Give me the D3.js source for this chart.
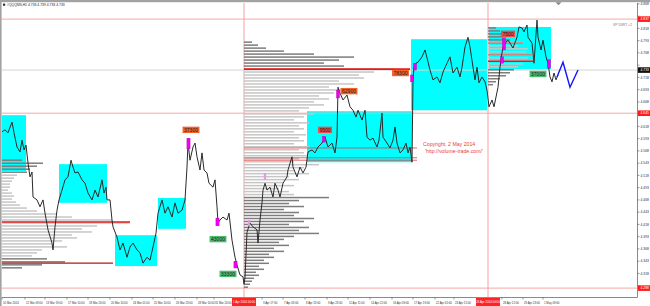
<!DOCTYPE html>
<html>
<head>
<meta charset="utf-8">
<script src="https://cdn.jsdelivr.net/npm/d3@7"></script>
<style>
  html, body { margin: 0; padding: 0; background: #fff; }
  svg { display: block; font-family: "Liberation Sans", Arial, sans-serif; }
</style>
</head>
<body>
<svg id="chart" width="650" height="306"></svg>
<script>
// hourly bars (index from 10 Mar 2014) and closes
const hourBars = [
  0, 6, 12, 20, 24, 30, 36, 40, 44, 48,
  52, 56, 60, 62, 70, 76, 82, 86, 92, 100,
  102, 106, 110, 114, 120, 126, 132, 138, 142, 146,
  152, 160, 166, 172, 180, 186, 192, 200, 204, 208,
  210, 216, 220, 222, 230, 236, 242, 250, 256, 262,
  270, 276, 282, 290, 296, 302, 308, 312, 320, 326,
  332, 340, 346, 352, 360, 366, 370, 372, 376, 382,
  386, 390, 396, 400, 404, 410, 414, 422, 426, 430,
  432, 436, 442, 450, 454, 460, 466, 470, 476, 482,
  484, 486, 490, 496, 502, 510, 512, 516, 520, 522,
  526, 530, 536, 542, 546, 552, 556, 562, 570, 572,
  580, 582, 590, 596, 602, 608, 612, 620, 626, 632,
  640, 646, 652, 660, 666, 670, 672, 676, 682, 690,
  696, 702, 708, 712, 720, 726, 730, 736, 742, 750,
  754, 760, 762, 770, 776, 782, 786, 790, 796, 802,
  808, 812, 816, 820, 822, 824, 828, 832, 840, 846,
  850, 856, 862, 870, 876, 882, 890, 896, 902, 910,
  916, 920, 926, 932, 936, 942, 946, 950, 954, 960,
  966, 970, 974, 980, 984, 988, 992, 996, 1000, 1002,
  1008, 1012, 1016, 1022, 1030, 1034, 1040, 1044, 1050, 1052,
  1060, 1064, 1070, 1072, 1078, 1082, 1088, 1092, 1096, 1100,
  1104, 1108, 1112
];
const closes = [
  4.607, 4.611, 4.605, 4.627, 4.605, 4.576, 4.566, 4.590, 4.570, 4.580,
  4.543, 4.515, 4.525, 4.474, 4.468, 4.454, 4.468, 4.441, 4.407, 4.380,
  4.366, 4.413, 4.447, 4.468, 4.488, 4.509, 4.515, 4.549, 4.535, 4.523,
  4.525, 4.509, 4.502, 4.482, 4.468, 4.488, 4.474, 4.509, 4.482, 4.494,
  4.468, 4.468, 4.427, 4.413, 4.392, 4.366, 4.380, 4.351, 4.372, 4.380,
  4.366, 4.360, 4.339, 4.351, 4.345, 4.372, 4.400, 4.441, 4.468, 4.441,
  4.454, 4.433, 4.462, 4.441, 4.447, 4.468, 4.535, 4.584, 4.549, 4.576,
  4.584, 4.556, 4.529, 4.564, 4.529, 4.523, 4.502, 4.494, 4.509, 4.454,
  4.421, 4.427, 4.433, 4.427, 4.441, 4.386, 4.351, 4.335, 4.315, 4.311,
  4.296, 4.309, 4.402, 4.421, 4.413, 4.407, 4.380, 4.427, 4.462, 4.488,
  4.502, 4.488, 4.494, 4.474, 4.502, 4.488, 4.474, 4.502, 4.515, 4.529,
  4.556, 4.535, 4.515, 4.535, 4.523, 4.535, 4.566, 4.570, 4.564, 4.576,
  4.584, 4.596, 4.576, 4.584, 4.564, 4.596, 4.698, 4.686, 4.672, 4.682,
  4.658, 4.651, 4.637, 4.651, 4.631, 4.651, 4.596, 4.590, 4.594, 4.576,
  4.590, 4.645, 4.596, 4.584, 4.574, 4.590, 4.617, 4.584, 4.564, 4.570,
  4.584, 4.564, 4.576, 4.545, 4.713, 4.739, 4.747, 4.749, 4.760, 4.774,
  4.758, 4.733, 4.713, 4.719, 4.707, 4.729, 4.747, 4.760, 4.727, 4.739,
  4.719, 4.739, 4.780, 4.800, 4.780, 4.739, 4.713, 4.739, 4.707, 4.719,
  4.709, 4.692, 4.658, 4.672, 4.658, 4.678, 4.698, 4.739, 4.768, 4.780,
  4.790, 4.794, 4.788, 4.778, 4.800, 4.821, 4.819, 4.811, 4.825, 4.800,
  4.788, 4.747, 4.835, 4.800, 4.774, 4.794, 4.760, 4.747, 4.719, 4.709,
  4.727, 4.713, 4.723
];

// forecast zigzag
const projBars = [1110, 1122, 1136, 1152];
const projPrices = [4.719, 4.749, 4.698, 4.733];

// value-area rectangles
const vaStartBars = [0, 114, 226, 312, 610, 818, 974];
const vaEndBars = [48, 210, 310, 368, 820, 970, 1098];
const vaHighs = [4.641, 4.541, 4.396, 4.472, 4.649, 4.796, 4.821];
const vaLows = [4.527, 4.462, 4.333, 4.409, 4.545, 4.651, 4.735];

// volume profiles: start bar, top level, value area, volumes per level
const profileStep = 0.0061;
const profileStartBars = [0, 484, 972];
const profileTops = [4.549, 4.790, 4.819];
const profileVAHigh = [4.523, 4.741, 4.792];
const profileVALow = [4.351, 4.476, 4.737];
const profileMarch = [
  20, 41, 35, 28, 25, 15, 12, 10, 8, 8, 6, 10, 12, 10, 14, 18, 25, 35, 55, 70,
  110, 128, 95, 80, 90, 70, 75, 60, 50, 65, 40, 35, 30, 45, 63, 40, 20
];
const profileApril = [
  8, 14, 22, 40, 70, 110, 95, 80, 100, 150, 130, 115, 120, 95, 110, 85, 100, 90, 75, 85,
  70, 80, 65, 55, 70, 60, 50, 65, 55, 60, 50, 62, 55, 60, 50, 65, 55, 60, 65, 55,
  50, 75, 60, 50, 65, 45, 55, 40, 50, 35, 45, 50, 85, 55, 45, 60, 40, 55, 50, 70,
  60, 45, 65, 55, 75, 50, 40, 35, 45, 30, 40, 25, 30, 20, 25, 15, 20, 12, 15, 10,
  8, 6, 4
];
const profileMay = [8, 12, 15, 18, 22, 35, 30, 40, 38, 45, 40, 45, 35, 30, 26, 22, 18, 12, 8, 5];
const profileVolumes = [profileMarch, profileApril, profileMay];

// point-of-control and other levels [fromBar, toBar, price]
const pocLevels = [[0, 256, 4.423], [484, 816, 4.735], [972, 1062, 4.751]];
const minorLevels = [[0, 222, 4.339], [484, 830, 4.574], [484, 830, 4.554], [484, 830, 4.549],
  [972, 1042, 4.788], [972, 1060, 4.764]];
const fullLevels = [4.837, 4.645, 4.288];
const lastPrice = 4.733;
const sessionBars = [484, 972];
const sessionLabels = ["1 Apr 2014 00:00", "24 Apr 2014 00:00"];

// volume markers
const markerBars = [373, 431, 467, 644, 672, 820, 826, 1004, 1000, 1094];
const markerHighs = [4.594, 4.431, 4.343, 4.598, 4.692, 4.723, 4.747, 4.798, 4.760, 4.754];
const markerLows = [4.572, 4.415, 4.329, 4.586, 4.676, 4.709, 4.733, 4.774, 4.747, 4.737];
const faintMarkerBars = [494, 526];
const faintMarkerHighs = [4.427, 4.523];
const faintMarkerLows = [4.415, 4.509];

// volume tags
const tagTexts = ["37300", "43000", "33300", "9500", "62900", "78300", "7500", "37000"];
const tagBars = [378, 432, 452, 646, 694, 797, 1012, 1072];
const tagPrices = [4.611, 4.388, 4.317, 4.611, 4.690, 4.727, 4.807, 4.725];
const tagKinds = ["high", "low", "low", "peak", "high", "high", "peak", "low"];

// axes
const priceTicks = [4.868, 4.843, 4.818, 4.793, 4.768, 4.743, 4.718, 4.693, 4.668, 4.643,
  4.618, 4.593, 4.568, 4.543, 4.518, 4.493, 4.468, 4.443, 4.418, 4.393,
  4.368, 4.343, 4.318, 4.293];
const timeLabels = ["10 Mar 2014", "12 Mar 09:00", "13 Mar 19:00", "17 Mar 10:00", "18 Mar 20:00",
  "20 Mar 14:00", "24 Mar 01:00", "25 Mar 10:00", "26 Mar 23:00", "28 Mar 10:00", "31 Mar 20:00",
  "3 Apr 17:00", "7 Apr 03:00", "8 Apr 13:00", "9 Apr 23:00", "11 Apr 11:00", "14 Apr 22:00",
  "16 Apr 09:00", "17 Apr 19:00", "22 Apr 05:00", "23 Apr 15:00", "28 Apr 12:00", "29 Apr 23:00",
  "1 May 09:00"];
const timeLabelBars = [0, 46, 86, 130, 172, 216, 260, 302, 346, 390, 424,
  520, 562, 606, 650, 692, 736, 780, 822, 866, 904, 1000, 1042, 1082];

const symbolName = "#QQQNN,H1";
const headerOHLC = [4.733, 4.739, 4.733, 4.733];

const W = 650, H = 306;
const plot = { left: 2, right: 637, top: 3, bottom: 297 };

const x = d3.scaleLinear().domain([0, 1270]).range([plot.left, plot.right]);
const y = d3.scaleLinear().domain([4.2515, 4.876]).range([H, 0]);
const volX = d3.scaleLinear().domain([0, 150]).range([0, 150]);

const svg = d3.select("#chart");
svg.append("rect").attr("width", W).attr("height", H).attr("fill", "#fff");

svg.append("defs").append("clipPath").attr("id", "plotClip")
  .append("rect")
  .attr("x", plot.left).attr("y", plot.top)
  .attr("width", plot.right - plot.left).attr("height", plot.bottom - plot.top);

const g = svg.append("g").attr("clip-path", "url(#plotClip)");

// value areas
g.selectAll(".va")
  .data(d3.range(vaStartBars.length))
  .join("rect")
  .attr("class", "va")
  .attr("x", i => x(vaStartBars[i]))
  .attr("y", i => y(vaHighs[i]))
  .attr("width", i => x(vaEndBars[i]) - x(vaStartBars[i]))
  .attr("height", i => y(vaLows[i]) - y(vaHighs[i]))
  .attr("fill", "#00ffff");

// pale full width levels and session lines
g.selectAll(".full")
  .data(fullLevels)
  .join("line")
  .attr("x1", plot.left).attr("x2", plot.right)
  .attr("y1", d => y(d)).attr("y2", d => y(d))
  .attr("stroke", "#f5a8a8").attr("stroke-width", 1);

g.selectAll(".session")
  .data(sessionBars)
  .join("line")
  .attr("x1", d => x(d)).attr("x2", d => x(d))
  .attr("y1", plot.top).attr("y2", plot.bottom)
  .attr("stroke", "#f5a0a0").attr("stroke-width", 1);

g.append("line")
  .attr("x1", plot.left).attr("x2", plot.right)
  .attr("y1", y(lastPrice)).attr("y2", y(lastPrice))
  .attr("stroke", "#d4d4d4").attr("stroke-width", 1);

// volume profiles
profileVolumes.forEach((vols, p) => {
  g.append("g")
    .selectAll("rect")
    .data(vols)
    .join("rect")
    .attr("x", x(profileStartBars[p]))
    .attr("y", (d, i) => y(profileTops[p] - i * profileStep) - 0.75)
    .attr("width", d => volX(d))
    .attr("height", 1.5)
    .attr("fill", (d, i) => {
      const lvl = profileTops[p] - i * profileStep;
      return lvl <= profileVAHigh[p] && lvl >= profileVALow[p] ? "#c6c6c6" : "#7d7d7d";
    });
});

// levels
g.selectAll(".minor")
  .data(minorLevels)
  .join("line")
  .attr("x1", d => x(d[0])).attr("x2", d => x(d[1]))
  .attr("y1", d => y(d[2])).attr("y2", d => y(d[2]))
  .attr("stroke", (d, i) => i === 0 ? "#b01818" : "#e04040")
  .attr("stroke-width", (d, i) => i === 0 ? 1.2 : 0.8);

g.selectAll(".poc")
  .data(pocLevels)
  .join("line")
  .attr("x1", d => x(d[0])).attr("x2", d => x(d[1]))
  .attr("y1", d => y(d[2])).attr("y2", d => y(d[2]))
  .attr("stroke", "#e81818").attr("stroke-width", 1.6);

// price line
const line = d3.line().x(d => x(d[0])).y(d => y(d[1]));
g.append("path")
  .datum(d3.zip(hourBars, closes))
  .attr("d", line)
  .attr("fill", "none")
  .attr("stroke", "#2a2a2a")
  .attr("stroke-width", 1)
  .attr("stroke-linejoin", "round");

g.append("path")
  .datum(d3.zip(projBars, projPrices))
  .attr("d", line)
  .attr("fill", "none")
  .attr("stroke", "#1414ff")
  .attr("stroke-width", 1.4);

// markers
g.selectAll(".faint")
  .data(d3.range(faintMarkerBars.length))
  .join("rect")
  .attr("x", i => x(faintMarkerBars[i]) - 1.2)
  .attr("y", i => y(faintMarkerHighs[i]))
  .attr("width", 2.4)
  .attr("height", i => y(faintMarkerLows[i]) - y(faintMarkerHighs[i]))
  .attr("fill", "#e49ae4");

g.selectAll(".marker")
  .data(d3.range(markerBars.length))
  .join("rect")
  .attr("x", i => x(markerBars[i]) - 1.6)
  .attr("y", i => y(markerHighs[i]))
  .attr("width", 3.2)
  .attr("height", i => y(markerLows[i]) - y(markerHighs[i]))
  .attr("fill", "#f000f0")
  .attr("stroke", "#a000a0")
  .attr("stroke-width", 0.3);

// tags
const tagFill = { high: "#f2632a", low: "#4dbb72", peak: "#e8504c" };
const tags = g.selectAll(".tag")
  .data(d3.range(tagTexts.length))
  .join("g")
  .attr("transform", i => `translate(${x(tagBars[i])},${y(tagPrices[i])})`);
const tagBox = tags.append("rect").attr("y", -3.2).attr("height", 6.4)
  .attr("fill", i => tagFill[tagKinds[i]]);
const tagText = tags.append("text")
  .attr("y", 1.8)
  .attr("text-anchor", "middle")
  .attr("font-size", 5)
  .attr("fill", "#1a1a1a")
  .text(i => tagTexts[i]);
tagText.each(function (i) {
  const w = this.getComputedTextLength() + 3;
  d3.select(tagBox.nodes()[i]).attr("x", -w / 2).attr("width", w);
});

// annotations
g.append("text").attr("x", 423).attr("y", 146).attr("font-size", 5.2).attr("fill", "#e8413c")
  .text("Copyright, 2 May 2014");
g.append("text").attr("x", 425).attr("y", 153).attr("font-size", 5.2).attr("fill", "#e8413c")
  .text("'http://volume-trade.com/'");
g.append("text").attr("x", 613).attr("y", 25.5).attr("font-size", 3.4).attr("fill", "#777")
  .text("VP D3RT +2");

// frame
svg.append("rect").attr("x", 0).attr("y", 0).attr("width", W).attr("height", 2.2).attr("fill", "#a2a2a2");
svg.append("rect").attr("x", 0).attr("y", 0).attr("width", 1.6).attr("height", H).attr("fill", "#a2a2a2");
svg.append("line").attr("x1", plot.right + 0.5).attr("x2", plot.right + 0.5)
  .attr("y1", plot.top).attr("y2", plot.bottom + 0.5).attr("stroke", "#8a8a8a");
svg.append("line").attr("x1", plot.left).attr("x2", plot.right + 0.5)
  .attr("y1", plot.bottom + 0.5).attr("y2", plot.bottom + 0.5).attr("stroke", "#8a8a8a");
svg.append("path").attr("d", "M555.5,2.2L561.5,2.2L558.5,5.2Z").attr("fill", "#8a8a8a");

// header
svg.append("rect").attr("x", 3).attr("y", 3.6).attr("width", 2.2).attr("height", 2.2).attr("fill", "#333");
svg.append("text").attr("x", 7).attr("y", 6.2).attr("font-size", 3.4).attr("fill", "#222")
  .text(symbolName + "  " + headerOHLC.map(d => d.toFixed(3)).join(" "));

// right price axis
const priceFlags = fullLevels.map(v => ({ v, fill: "#ff1c1c" }))
  .concat([{ v: lastPrice, fill: "#111" }]);
const yAxis = svg.append("g");
const visibleTicks = priceTicks.filter(d => y(d) > plot.top && y(d) < plot.bottom);
yAxis.selectAll("line")
  .data(visibleTicks)
  .join("line")
  .attr("x1", plot.right + 0.5).attr("x2", plot.right + 2.5)
  .attr("y1", d => y(d)).attr("y2", d => y(d))
  .attr("stroke", "#555").attr("stroke-width", 0.6);
// labels hidden under a flag are not drawn, as in the terminal
const freeTicks = visibleTicks.filter(d => priceFlags.every(f => Math.abs(y(f.v) - y(d)) > 5));
yAxis.selectAll("text")
  .data(freeTicks)
  .join("text")
  .attr("x", plot.right + 3.5).attr("y", d => y(d) + 1.2)
  .attr("font-size", 3.4).attr("fill", "#333")
  .text(d => d.toFixed(3));

const flag = svg.selectAll(".flag")
  .data(priceFlags)
  .join("g")
  .attr("transform", d => `translate(${plot.right + 1},${y(d.v)})`);
flag.append("rect").attr("x", 0).attr("y", -2.8).attr("width", 12).attr("height", 5.6)
  .attr("fill", d => d.fill);
flag.append("text").attr("x", 2.5).attr("y", 1.2).attr("font-size", 3.4).attr("fill", "#fff")
  .text(d => d.v.toFixed(3));

// bottom time axis
const xAxis = svg.append("g");
xAxis.selectAll("line")
  .data(timeLabelBars)
  .join("line")
  .attr("x1", d => x(d)).attr("x2", d => x(d))
  .attr("y1", plot.bottom + 0.5).attr("y2", plot.bottom + 2.5)
  .attr("stroke", "#555").attr("stroke-width", 0.6);
xAxis.selectAll("text")
  .data(timeLabelBars)
  .join("text")
  .attr("x", d => x(d) + 1)
  .attr("y", 303.5)
  .attr("font-size", 2.8)
  .attr("fill", "#333")
  .text((d, i) => timeLabels[i]);

const sess = svg.selectAll(".sess")
  .data(sessionBars)
  .join("g")
  .attr("transform", d => `translate(${x(d)},${plot.bottom + 1})`);
sess.append("rect").attr("x", -12).attr("y", 0).attr("width", 24).attr("height", 8)
  .attr("fill", "#ff2222");
sess.append("text").attr("y", 5).attr("text-anchor", "middle").attr("font-size", 2.9)
  .attr("fill", "#fff").text((d, i) => sessionLabels[i]);
</script>
</body>
</html>
